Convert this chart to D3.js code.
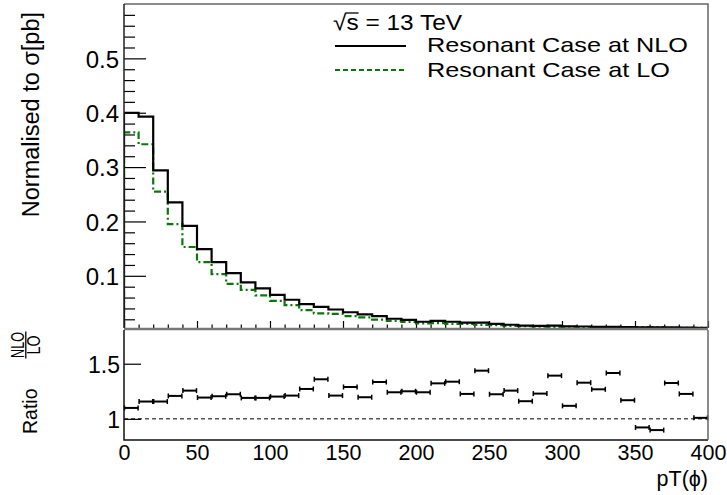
<!DOCTYPE html>
<html lang="en">
<head>
<meta charset="utf-8">
<title>Resonant pT(phi) NLO vs LO</title>
<script src="https://cdn.jsdelivr.net/npm/d3@7/dist/d3.min.js"></script>
<style>
	body{
		margin: 0px;
		overflow: hidden;
		background: #fff;
	}
	text{
		font-family: "Liberation Sans", Arial, Helvetica, sans-serif;
		fill: #000;
	}
	.domain{
		display: none;
	}
	.tick line{
		stroke: #000;
		stroke-width: 1.2;
	}
</style>
</head>
<body>
<script>

// bins of 10 GeV from 0 to 400
const binWidth = 10;

// normalised distributions
const nloValues = [0.400, 0.393, 0.294, 0.235, 0.192, 0.149, 0.125, 0.105, 0.088, 0.077,
	0.065, 0.056, 0.048, 0.043, 0.038, 0.033, 0.029, 0.026, 0.021, 0.019,
	0.0155, 0.0170, 0.0155, 0.0140, 0.0140, 0.0115, 0.0100, 0.0085, 0.0080, 0.0085,
	0.0070, 0.0068, 0.0062, 0.0060, 0.0055, 0.0052, 0.0050, 0.0052, 0.0048, 0.0045];

const loValues = [0.364, 0.342, 0.255, 0.195, 0.153, 0.125, 0.103, 0.085, 0.074, 0.064,
	0.054, 0.046, 0.037, 0.031, 0.030, 0.026, 0.0237, 0.0195, 0.017, 0.015,
	0.0125, 0.0128, 0.0116, 0.0114, 0.0097, 0.0094, 0.0080, 0.0073, 0.0065, 0.0061,
	0.0063, 0.0051, 0.0049, 0.0044, 0.0047, 0.0056, 0.0056, 0.0042, 0.0042, 0.0045];

// NLO / LO ratio points
const ratioValues = [1.099, 1.157, 1.157, 1.208, 1.256, 1.193, 1.205, 1.223, 1.190, 1.190,
	1.202, 1.211, 1.271, 1.359, 1.211, 1.289, 1.196, 1.334, 1.241, 1.250,
	1.241, 1.322, 1.337, 1.226, 1.437, 1.223, 1.256, 1.160, 1.229, 1.392,
	1.118, 1.328, 1.268, 1.416, 1.169, 0.922, 0.898, 1.325, 1.226, 1.009];

const xTicks = [0, 50, 100, 150, 200, 250, 300, 350, 400];
const xMinorTicks = d3.range(0, 401, 10);
const yTicks = [0.1, 0.2, 0.3, 0.4, 0.5];
const yMinorTicks = d3.range(0.02, 0.6, 0.02);
const ratioTicks = [1, 1.5];

const width = 727;
const height = 495;

const xScale = d3.scaleLinear().domain([0, 400]).range([124, 708]);
const yScale = d3.scaleLinear().domain([0.004, 0.6]).range([328, 4]);
const rScale = d3.scaleLinear().domain([0.808, 1.806]).range([440, 330]);

const svg = d3.select("body")
	.append("svg")
	.attr("width", width)
	.attr("height", height);

svg.append("clipPath").attr("id", "topclip")
	.append("rect")
	.attr("x", xScale(0)).attr("y", yScale(0.6))
	.attr("width", xScale(400) - xScale(0))
	.attr("height", yScale(0.004) - yScale(0.6));

//Top pad axes
const yAxisG = svg.append("g")
	.attr("transform", `translate(${xScale(0)},0)`)
	.call(d3.axisLeft(yScale).tickValues(yTicks).tickFormat(d3.format(".1f"))
		.tickSizeInner(-22).tickSizeOuter(0).tickPadding(5));
yAxisG.selectAll("text").style("font-size", "24px").attr("dy", "0.36em");

svg.append("g")
	.attr("transform", `translate(${xScale(0)},0)`)
	.call(d3.axisLeft(yScale).tickValues(yMinorTicks.filter(d => Math.abs(d * 10 - Math.round(d * 10)) > 0.01))
		.tickSizeInner(-11).tickSizeOuter(0).tickFormat(""));

svg.append("g")
	.attr("transform", `translate(0,${yScale(0.004)})`)
	.call(d3.axisBottom(xScale).tickValues(xTicks).tickSizeInner(-7).tickSizeOuter(0).tickFormat(""));
svg.append("g")
	.attr("transform", `translate(0,${yScale(0.004)})`)
	.call(d3.axisBottom(xScale).tickValues(xMinorTicks.filter(d => d % 50 != 0)).tickSizeInner(-3.5).tickSizeOuter(0).tickFormat(""));

//Histograms
const stepLine = d3.line()
	.x(d => xScale(d[0]))
	.y(d => yScale(d[1]))
	.curve(d3.curveStepAfter);

function histPoints(vals) {
	const pts = [[0, 0.004]];
	vals.forEach((v, i) => pts.push([i * binWidth, v]));
	pts.push([vals.length * binWidth, vals[vals.length - 1]]);
	pts.push([vals.length * binWidth, 0.004]);
	return pts;
}

const histG = svg.append("g").attr("clip-path", "url(#topclip)");

histG.append("path")
	.attr("d", stepLine(histPoints(loValues)))
	.attr("fill", "none")
	.attr("stroke", "#087808")
	.attr("stroke-width", 2.2)
	.attr("stroke-dasharray", "7,3,2,3");

histG.append("path")
	.attr("d", stepLine(histPoints(nloValues)))
	.attr("fill", "none")
	.attr("stroke", "#000")
	.attr("stroke-width", 2.2);

//Top pad frame
svg.append("path")
	.attr("d", `M${xScale(0)},${yScale(0.6)}H${xScale(400)}V${yScale(0.004)}`)
	.attr("fill", "none").attr("stroke", "#666").attr("stroke-width", 1.5);
svg.append("line")
	.attr("x1", xScale(0)).attr("x2", xScale(0))
	.attr("y1", yScale(0.6)).attr("y2", yScale(0.004))
	.attr("stroke", "#222").attr("stroke-width", 1.5);

//Bottom pad
svg.append("line")
	.attr("x1", xScale(0)).attr("x2", xScale(400))
	.attr("y1", 329).attr("y2", 329)
	.attr("stroke", "#777").attr("stroke-width", 2.5);

const rAxisG = svg.append("g")
	.attr("transform", `translate(${xScale(0)},0)`)
	.call(d3.axisLeft(rScale).tickValues(ratioTicks).tickFormat(d => d)
		.tickSizeInner(-17).tickSizeOuter(0).tickPadding(4));
rAxisG.selectAll("text").style("font-size", "23px").attr("dy", "0.36em");

const xAxisG = svg.append("g")
	.attr("transform", `translate(0,${rScale(0.808)})`)
	.call(d3.axisBottom(xScale).tickValues(xTicks).tickSizeInner(0).tickSizeOuter(0).tickPadding(5));
xAxisG.selectAll("text").style("font-size", "21.5px");

svg.append("line")
	.attr("x1", xScale(0)).attr("x2", xScale(400))
	.attr("y1", rScale(1)).attr("y2", rScale(1))
	.attr("stroke", "#000").attr("stroke-width", 1)
	.attr("stroke-dasharray", "4,3");

const ratioG = svg.append("g");
ratioValues.forEach((r, i) => {
	const x0 = xScale(i * binWidth) + 0.5;
	const x1 = xScale((i + 1) * binWidth) - 0.5;
	const y = rScale(r);
	ratioG.append("line").attr("x1", x0).attr("x2", x1).attr("y1", y).attr("y2", y)
		.attr("stroke", "#000").attr("stroke-width", 2);
	[x0, x1].forEach(x => ratioG.append("line")
		.attr("x1", x).attr("x2", x).attr("y1", y - 2.5).attr("y2", y + 2.5)
		.attr("stroke", "#000").attr("stroke-width", 1.5));
});

svg.append("path")
	.attr("d", `M${xScale(0)},${rScale(1.806)}V${rScale(0.808)}H${xScale(400)}`)
	.attr("fill", "none").attr("stroke", "#111").attr("stroke-width", 1.5);
svg.append("line")
	.attr("x1", xScale(400)).attr("x2", xScale(400))
	.attr("y1", rScale(1.806)).attr("y2", rScale(0.808))
	.attr("stroke", "#666").attr("stroke-width", 1.5);

//Axis titles
svg.append("text")
	.attr("transform", "translate(39,12) rotate(-90)")
	.attr("text-anchor", "end")
	.style("font-size", "23.5px")
	.text("Normalised to \u03c3[pb]");

svg.append("text")
	.attr("transform", "translate(37,434) rotate(-90)")
	.style("font-size", "19.5px")
	.text("Ratio");

const frac = svg.append("g").attr("transform", "translate(0,345) rotate(-90)");
frac.append("text").attr("x", 0).attr("y", 23.5).attr("text-anchor", "middle")
	.attr("textLength", 26).attr("lengthAdjust", "spacingAndGlyphs")
	.style("font-size", "19px").text("NLO");
frac.append("text").attr("x", 0).attr("y", 39.5).attr("text-anchor", "middle")
	.attr("textLength", 19).attr("lengthAdjust", "spacingAndGlyphs")
	.style("font-size", "19px").text("LO");
frac.append("line").attr("x1", -13.5).attr("x2", 13.5).attr("y1", 25.8).attr("y2", 25.8)
	.attr("stroke", "#000").attr("stroke-width", 1.3);

svg.append("text")
	.attr("x", 708).attr("y", 486)
	.attr("text-anchor", "end")
	.style("font-size", "21.5px")
	.text("pT(\u03d5)");

//Legend
const sqrtText = svg.append("text")
	.attr("x", 333).attr("y", 30)
	.attr("textLength", 129).attr("lengthAdjust", "spacingAndGlyphs")
	.style("font-size", "22px")
	.text("\u221as = 13 TeV");
const rootW = sqrtText.node().getExtentOfChar(0).width;
const sBox = sqrtText.node().getExtentOfChar(1);
svg.append("line")
	.attr("x1", 333 + rootW - 1).attr("x2", sBox.x + sBox.width)
	.attr("y1", 13).attr("y2", 13)
	.attr("stroke", "#000").attr("stroke-width", 1.3);

svg.append("line")
	.attr("x1", 335).attr("x2", 406).attr("y1", 46).attr("y2", 46)
	.attr("stroke", "#000").attr("stroke-width", 2);
svg.append("text")
	.attr("x", 427).attr("y", 52)
	.attr("textLength", 261).attr("lengthAdjust", "spacingAndGlyphs")
	.style("font-size", "21px")
	.text("Resonant Case at NLO");

svg.append("line")
	.attr("x1", 335).attr("x2", 406).attr("y1", 70).attr("y2", 70)
	.attr("stroke", "#087808").attr("stroke-width", 2)
	.attr("stroke-dasharray", "5,3");
svg.append("text")
	.attr("x", 427).attr("y", 76.5)
	.attr("textLength", 243).attr("lengthAdjust", "spacingAndGlyphs")
	.style("font-size", "21px")
	.text("Resonant Case at LO");

</script>
</body>
</html>
